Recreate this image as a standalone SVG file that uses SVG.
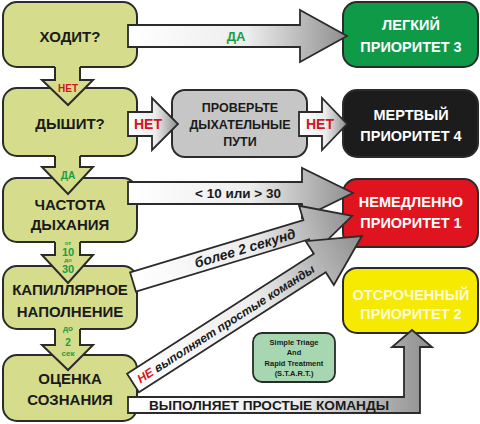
<svg xmlns="http://www.w3.org/2000/svg" width="480" height="424" viewBox="0 0 480 424">
<defs>
<linearGradient id="ga" x1="0" y1="0" x2="1" y2="0">
<stop offset="0" stop-color="#ffffff"/>
<stop offset="0.55" stop-color="#ececec"/>
<stop offset="1" stop-color="#8e8e8e"/>
</linearGradient>
<style>
.q{fill:#d5dc8c;stroke:#2b2b2b;stroke-width:2}
.qa{fill:#d5dc8c;stroke:none}
.ql{fill:none;stroke:#2b2b2b;stroke-width:2;stroke-linejoin:miter}
.ar{fill:url(#ga);stroke:#2b2b2b;stroke-width:1.8;stroke-linejoin:miter}
.t{font-family:"Liberation Sans",Arial,sans-serif;font-weight:bold;text-anchor:middle}
.ts{font-family:"Liberation Sans",Arial,sans-serif;font-weight:bold;text-anchor:start}
.lt{font-size:15px;fill:#1a1a1a}
.rt{font-size:14.5px;fill:#ffffff}
.red{fill:#d4141e}
.grn{fill:#14a043}
.dk{fill:#1a1a1a}
</style>
</defs>
<rect width="480" height="424" fill="#ffffff"/>

<g id="node-hodit">
<rect class="q" x="3" y="2" width="134" height="65" rx="14"/>
<text class="t lt" x="70" y="42">ХОДИТ?</text>
</g>
<g id="node-dyshit">
<rect class="q" x="3" y="88" width="134" height="68" rx="14"/>
<text class="t lt" x="70" y="129">ДЫШИТ?</text>
</g>
<g id="node-chastota">
<rect class="q" x="3" y="178" width="134" height="64" rx="14"/>
<text class="t lt" x="70" y="210">ЧАСТОТА</text>
<text class="t lt" x="70" y="230">ДЫХАНИЯ</text>
</g>
<g id="node-kapill">
<rect class="q" x="3" y="266" width="134" height="63" rx="14"/>
<text class="t lt" x="70" y="295">КАПИЛЛЯРНОЕ</text>
<text class="t lt" x="70" y="317">НАПОЛНЕНИЕ</text>
</g>
<g id="node-ocenka">
<rect class="q" x="3" y="355" width="134" height="66" rx="14"/>
<text class="t lt" x="70" y="384">ОЦЕНКА</text>
<text class="t lt" x="70" y="405">СОЗНАНИЯ</text>
</g>

<g id="node-airway">
<rect x="172" y="90" width="135" height="67" rx="13" fill="#c6c6c6" stroke="#2b2b2b" stroke-width="2"/>
<text class="t dk" x="240" y="112" font-size="12.5">ПРОВЕРЬТЕ</text>
<text class="t dk" x="240" y="129" font-size="12.5">ДЫХАТЕЛЬНЫЕ</text>
<text class="t dk" x="240" y="146" font-size="12.5">ПУТИ</text>
</g>

<g id="node-p3">
<rect x="343" y="2" width="135" height="65" rx="14" fill="#0f9a48" stroke="#2b2b2b" stroke-width="2"/>
<text class="t rt" x="411" y="30">ЛЕГКИЙ</text>
<text class="t rt" x="411" y="52">ПРИОРИТЕТ 3</text>
</g>
<g id="node-p4">
<rect x="343" y="90" width="135" height="67" rx="14" fill="#1c1c1c" stroke="#2b2b2b" stroke-width="2"/>
<text class="t rt" x="411" y="120">МЕРТВЫЙ</text>
<text class="t rt" x="411" y="141">ПРИОРИТЕТ 4</text>
</g>
<g id="node-p1">
<rect x="343" y="179" width="135" height="68" rx="14" fill="#e0141e" stroke="#2b2b2b" stroke-width="2"/>
<text class="t rt" x="411" y="207">НЕМЕДЛЕННО</text>
<text class="t rt" x="411" y="228">ПРИОРИТЕТ 1</text>
</g>
<g id="node-p2">
<rect x="343" y="268" width="135" height="65" rx="14" fill="#f6ea00" stroke="#2b2b2b" stroke-width="2"/>
<text class="t" x="411" y="300" font-size="14.5" fill="#fffbd8">ОТСРОЧЕННЫЙ</text>
<text class="t" x="411" y="319" font-size="14.5" fill="#fffbd8">ПРИОРИТЕТ 2</text>
</g>

<g id="node-start">
<rect x="253" y="333" width="82" height="49" rx="9" fill="#a6d7b0" stroke="#2b2b2b" stroke-width="1.8"/>
<text class="t dk" x="294" y="345" font-size="7.5">Simple Triage</text>
<text class="t dk" x="294" y="355" font-size="7.5">And</text>
<text class="t dk" x="294" y="366" font-size="7.5">Rapid Treatment</text>
<text class="t dk" x="294" y="376" font-size="7.5">(S.T.A.R.T.)</text>
</g>

<g id="connectors">
<polygon class="qa" points="55,65 80,65 80,80 93,80 68,105 42,80 55,80"/>
<polyline class="ql" points="55,67 55,80 42,80 68,105 93,80 80,80 80,67"/>
<text class="t red" x="68" y="92" font-size="10">НЕТ</text>

<polygon class="qa" points="55,154 80,154 80,167 93,167 68,194 42,167 55,167"/>
<polyline class="ql" points="55,156 55,167 42,167 68,194 93,167 80,167 80,156"/>
<text class="t grn" x="68" y="179" font-size="10">ДА</text>

<polygon class="qa" points="55,240 80,240 80,255 93,255 68,283 42,255 55,255"/>
<polyline class="ql" points="55,242 55,255 42,255 68,283 93,255 80,255 80,242"/>
<text class="t grn" x="68" y="245" font-size="6">от</text>
<text class="t grn" x="68" y="256" font-size="11">10</text>
<text class="t grn" x="68" y="262" font-size="6">до</text>
<text class="t grn" x="68" y="273" font-size="11">30</text>

<polygon class="qa" points="55,327 80,327 80,345 93,345 68,370 42,345 55,345"/>
<polyline class="ql" points="55,329 55,345 42,345 68,370 93,345 80,345 80,329"/>
<text class="t grn" x="68" y="331" font-size="8">до</text>
<text class="t grn" x="68" y="346" font-size="10">2</text>
<text class="t grn" x="68" y="356" font-size="8">сек</text>

<polygon class="ar" points="128,25 300,25 300,10 347,36 300,62 300,47 128,47"/>
<text class="t grn" x="236" y="41" font-size="13">ДА</text>

<polygon class="ar" points="128,112 152,112 152,98 178,124 152,150 152,136 128,136"/>
<text class="t red" x="148" y="129" font-size="14">НЕТ</text>

<polygon class="ar" points="299,112 322,112 322,98 347,124 322,150 322,136 299,136"/>
<text class="t red" x="320" y="129" font-size="14">НЕТ</text>

<polygon class="ar" points="128,182 302,182 302,168 353,193 302,218 302,204 128,204"/>
<text class="t dk" x="238" y="198" font-size="13.5">&lt; 10 или &gt; 30</text>

<g transform="translate(133,282) rotate(-16.8)">
<polygon class="ar" points="0,-10 181,-10 181,-25 229,0 181,25 181,10 0,10"/>
<text class="t dk" x="117" y="5" font-size="14" font-style="italic">более 2 секунд</text>
</g>

<g transform="translate(133,383) rotate(-32.7)">
<polygon class="ar" points="0,-11 222,-11 222,-26 272,0 222,26 222,11 0,11"/>
<text class="ts" x="6" y="4.5" font-size="12" font-style="italic"><tspan class="red">НЕ</tspan><tspan class="dk"> выполняет простые команды</tspan></text>
</g>

<path class="ar" d="M128,397 L404,397 L404,347 L392,347 L412,330 L432,347 L420,347 L420,413 L128,413 Z"/>
<text class="t dk" x="269" y="410" font-size="13" textLength="240" lengthAdjust="spacingAndGlyphs">ВЫПОЛНЯЕТ ПРОСТЫЕ КОМАНДЫ</text>
</g>
</svg>
